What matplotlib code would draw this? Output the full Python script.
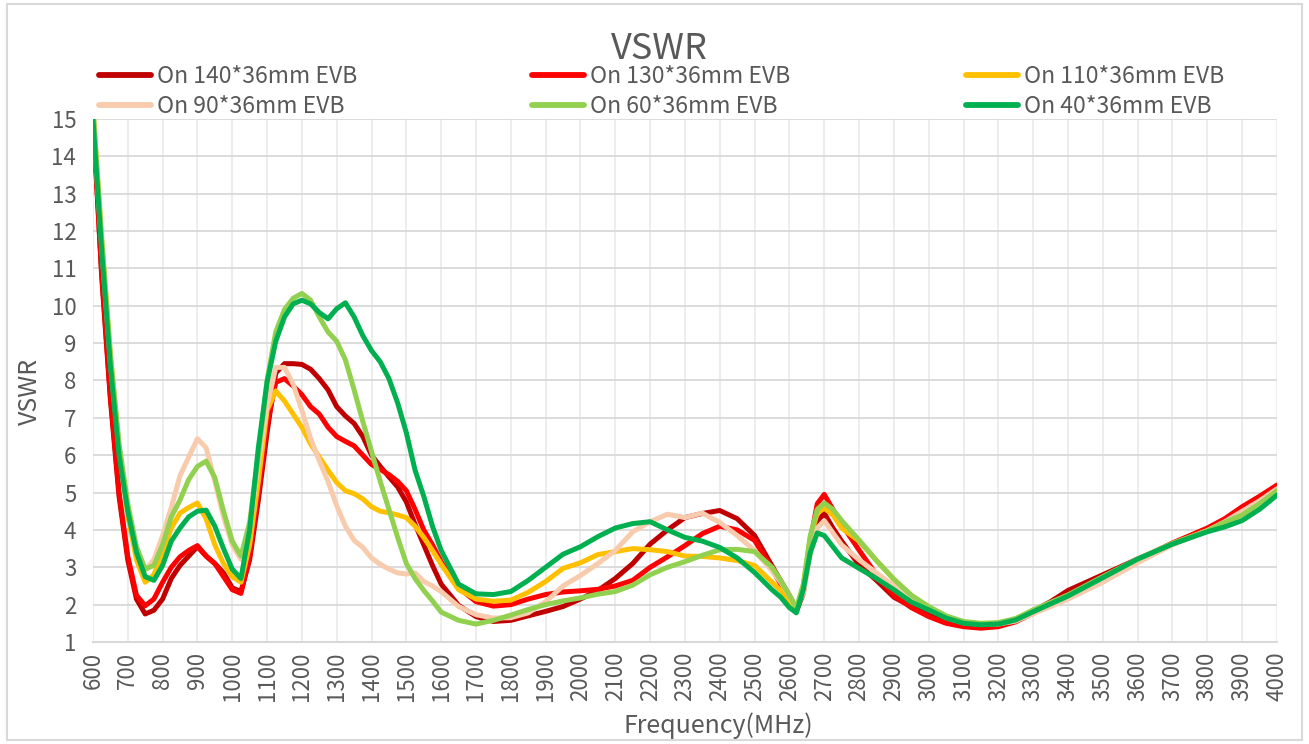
"""VSWR of the antenna on different EVB sizes."""
import matplotlib
matplotlib.use("Agg")
import matplotlib.pyplot as plt
from matplotlib.patches import Rectangle

FONT = ["Noto Sans CJK SC", "DejaVu Sans"]
TXT = "#595959"

freq = [600, 625, 650, 675, 700, 725, 750, 775, 800, 825, 850, 875, 900, 925, 950, 975,
        1000, 1025, 1050, 1075, 1100, 1125, 1150, 1175, 1200, 1225, 1250, 1275, 1300,
        1325, 1350, 1375, 1400, 1425, 1450, 1475, 1500, 1525, 1550, 1575, 1600,
        1650, 1700, 1750, 1800, 1850, 1900, 1950, 2000, 2050, 2100, 2150, 2200, 2250,
        2300, 2350, 2400, 2450, 2500, 2550, 2575, 2600, 2620, 2640, 2660, 2680, 2700,
        2725, 2750, 2800, 2850, 2900, 2950, 3000, 3050, 3100, 3150, 3200, 3250, 3300,
        3350, 3400, 3500, 3600, 3700, 3800, 3850, 3900, 3950, 4000]

evb_140 = [15.2, 10.8, 7.5, 4.9, 3.2, 2.15, 1.75, 1.85, 2.15, 2.7, 3.05, 3.3, 3.55, 3.3, 3.1, 2.85,
           2.45, 2.35, 3.2, 4.8, 6.6, 8.2, 8.45, 8.45, 8.43, 8.3, 8.05, 7.75, 7.3,
           7.05, 6.85, 6.5, 6.0, 5.7, 5.42, 5.15, 4.75, 4.15, 3.6, 3.05, 2.55,
           1.98, 1.68, 1.55, 1.58, 1.7, 1.82, 1.95, 2.15, 2.38, 2.7, 3.1, 3.62, 4.0,
           4.33, 4.44, 4.52, 4.3, 3.85, 3.04, 2.64, 2.25, 1.87, 2.4, 3.5, 4.2, 4.45,
           4.05, 3.7, 3.06, 2.65, 2.2, 1.95, 1.72, 1.55, 1.45, 1.4, 1.43, 1.58, 1.83,
           2.08, 2.38, 2.8, 3.22, 3.62, 4.0, 4.2, 4.45, 4.72, 5.1]

evb_130 = [15.0, 10.9, 7.6, 5.0, 3.3, 2.25, 1.97, 2.15, 2.6, 3.0, 3.28, 3.45, 3.58, 3.3, 3.1, 2.75,
           2.4, 2.3, 3.3, 5.0, 6.8, 7.95, 8.05, 7.85, 7.62, 7.3, 7.1, 6.75, 6.5,
           6.37, 6.25, 6.0, 5.75, 5.62, 5.48, 5.3, 5.05, 4.55, 4.0, 3.6, 3.15,
           2.45, 2.08, 1.96, 2.0, 2.15, 2.27, 2.34, 2.37, 2.41, 2.5, 2.65, 3.0, 3.28,
           3.58, 3.9, 4.1, 4.0, 3.72, 2.95, 2.55, 2.15, 1.82, 2.3, 3.7, 4.7, 4.95,
           4.55, 4.15, 3.46, 2.8, 2.25, 1.92, 1.68, 1.5, 1.41, 1.37, 1.41, 1.54, 1.77,
           1.99, 2.2, 2.68, 3.2, 3.65, 4.05, 4.3, 4.62, 4.9, 5.2]

evb_110 = [15.3, 11.8, 8.7, 6.2, 4.4, 3.2, 2.6, 2.8, 3.4, 4.05, 4.45, 4.6, 4.72, 4.3, 3.6, 3.1,
           2.75, 2.6, 3.6, 5.3, 7.2, 7.72, 7.45, 7.1, 6.75, 6.3, 5.95, 5.6, 5.27,
           5.05, 4.97, 4.83, 4.62, 4.5, 4.46, 4.4, 4.33, 4.1, 3.8, 3.45, 3.08,
           2.4, 2.15, 2.09, 2.12, 2.33, 2.62, 2.97, 3.12, 3.34, 3.42, 3.5, 3.47, 3.42,
           3.3, 3.29, 3.25, 3.18, 3.05, 2.6, 2.38, 2.1, 1.87, 2.5, 3.8, 4.45, 4.58,
           4.4, 4.05, 3.7, 3.18, 2.68, 2.25, 1.93, 1.67, 1.53, 1.48, 1.5, 1.6, 1.8,
           2.0, 2.2, 2.7, 3.2, 3.62, 3.98, 4.2, 4.45, 4.7, 5.05]

evb_90 = [15.0, 11.6, 8.5, 6.2, 4.6, 3.5, 2.93, 3.2, 3.85, 4.6, 5.45, 5.95, 6.44, 6.2, 5.3, 4.35,
          3.6, 3.21, 4.0, 5.8, 7.3, 8.35, 8.35, 7.9, 7.2, 6.45, 5.85, 5.3, 4.65,
          4.1, 3.72, 3.53, 3.25, 3.08, 2.95, 2.85, 2.82, 2.85, 2.62, 2.5, 2.35,
          1.95, 1.73, 1.64, 1.65, 1.78, 2.08, 2.5, 2.78, 3.1, 3.45, 3.95, 4.22, 4.42,
          4.33, 4.45, 4.2, 3.85, 3.45, 2.9, 2.6, 2.25, 1.91, 2.3, 3.35, 4.05, 4.25,
          3.92, 3.6, 3.2, 2.85, 2.5, 2.15, 1.9, 1.65, 1.52, 1.47, 1.48, 1.56, 1.76,
          1.95, 2.15, 2.6, 3.12, 3.6, 3.98, 4.22, 4.5, 4.78, 5.1]

evb_60 = [15.3, 11.8, 8.7, 6.3, 4.7, 3.55, 2.95, 3.05, 3.6, 4.35, 4.8, 5.35, 5.7, 5.84, 5.4, 4.5,
          3.7, 3.3, 4.2, 6.0, 8.0, 9.3, 9.9, 10.2, 10.33, 10.15, 9.7, 9.3, 9.05,
          8.55, 7.75, 6.9, 6.1, 5.3, 4.55, 3.8, 3.1, 2.7, 2.38, 2.1, 1.8,
          1.58, 1.48, 1.58, 1.72, 1.87, 2.0, 2.1, 2.18, 2.28, 2.35, 2.52, 2.8, 3.0,
          3.15, 3.32, 3.47, 3.48, 3.42, 3.0, 2.65, 2.25, 1.91, 2.55, 3.85, 4.55, 4.72,
          4.55, 4.25, 3.73, 3.18, 2.68, 2.25, 1.95, 1.7, 1.55, 1.5, 1.52, 1.63, 1.86,
          2.06, 2.26, 2.75, 3.22, 3.64, 3.98, 4.2, 4.4, 4.7, 5.05]

evb_40 = [15.0, 11.5, 8.4, 6.0, 4.5, 3.4, 2.75, 2.65, 3.05, 3.7, 4.05, 4.35, 4.5, 4.53, 4.1, 3.5,
          2.95, 2.7, 4.0, 6.2, 7.95, 9.05, 9.7, 10.05, 10.15, 10.05, 9.82, 9.65, 9.92,
          10.08, 9.7, 9.2, 8.8, 8.5, 8.05, 7.4, 6.6, 5.6, 4.9, 4.1, 3.45,
          2.55, 2.29, 2.27, 2.35, 2.65, 3.0, 3.35, 3.55, 3.82, 4.05, 4.17, 4.22, 4.0,
          3.8, 3.7, 3.53, 3.25, 2.86, 2.4, 2.2, 1.92, 1.78, 2.4, 3.4, 3.92, 3.85,
          3.55, 3.25, 2.97, 2.7, 2.4, 2.07, 1.86, 1.64, 1.5, 1.46, 1.48, 1.59, 1.81,
          2.02, 2.23, 2.72, 3.22, 3.62, 3.95, 4.08, 4.25, 4.55, 4.93]

series = [
    ("On 140*36mm EVB", evb_140, "#C00000"),
    ("On 130*36mm EVB", evb_130, "#FF0000"),
    ("On 110*36mm EVB", evb_110, "#FFC000"),
    ("On 90*36mm EVB", evb_90, "#F8CBAD"),
    ("On 60*36mm EVB", evb_60, "#92D050"),
    ("On 40*36mm EVB", evb_40, "#00B050"),
]
x_ticks = list(range(600, 4001, 100))
y_ticks = list(range(1, 16))


def main():
    plt.rcParams["font.family"] = FONT
    fig = plt.figure(figsize=(13.09, 7.44), dpi=100)
    ax = fig.add_axes([0.0710, 0.1371, 0.9045, 0.7030])

    lines = []
    for label, vals, color in series:
        (ln,) = ax.plot(freq, vals, color=color, lw=3.6, label=label,
                        solid_capstyle="round", solid_joinstyle="round")
        lines.append(ln)

    ax.set_xlim(600, 4000)
    ax.set_ylim(1, 15)
    ax.set_xticks(x_ticks)
    ax.set_xticklabels([str(v) for v in x_ticks], rotation=90, va="top")
    ax.set_yticks(y_ticks)
    ax.tick_params(length=0, labelsize=16, colors=TXT)
    ax.tick_params(axis="x", pad=7)
    ax.tick_params(axis="y", pad=12)
    ax.grid(axis="y", color="#d9d9d9", lw=1.3)
    ax.grid(axis="x", color="#ececec", lw=1.3)
    ax.set_axisbelow(True)
    for side in ["top", "right", "left"]:
        ax.spines[side].set_visible(False)
    ax.spines["bottom"].set_color("#d9d9d9")
    ax.spines["bottom"].set_linewidth(1.5)

    ax.set_xlabel("Frequency(MHz)", fontsize=18, color=TXT)
    ax.xaxis.set_label_coords(0.528, -0.135)
    ax.set_ylabel("VSWR", fontsize=18, color=TXT)
    ax.yaxis.set_label_coords(-0.042, 0.48)
    fig.text(0.504, 0.934, "VSWR", fontsize=26, color=TXT, ha="center", va="center")

    # Excel fills the legend row by row; matplotlib fills columns
    order = [0, 3, 1, 4, 2, 5]
    leg = fig.legend([lines[i] for i in order], [series[i][0] for i in order],
                     ncol=3, loc="upper left", bbox_to_anchor=(0.0755, 0.912),
                     frameon=False, fontsize=16.5, handlelength=2.27, handletextpad=0.26,
                     columnspacing=7.65, labelspacing=0.28, borderpad=0, borderaxespad=0)
    for t in leg.get_texts():
        t.set_color(TXT)
    for h in leg.legend_handles:
        h.set_linewidth(4.2)

    fig.patches.append(Rectangle((0.005, 0.006), 0.990, 0.988, transform=fig.transFigure,
                                 fill=False, edgecolor="#d9d9d9", lw=1.5))
    fig.savefig("out.png", dpi=100)


if __name__ == "__main__":
    main()
